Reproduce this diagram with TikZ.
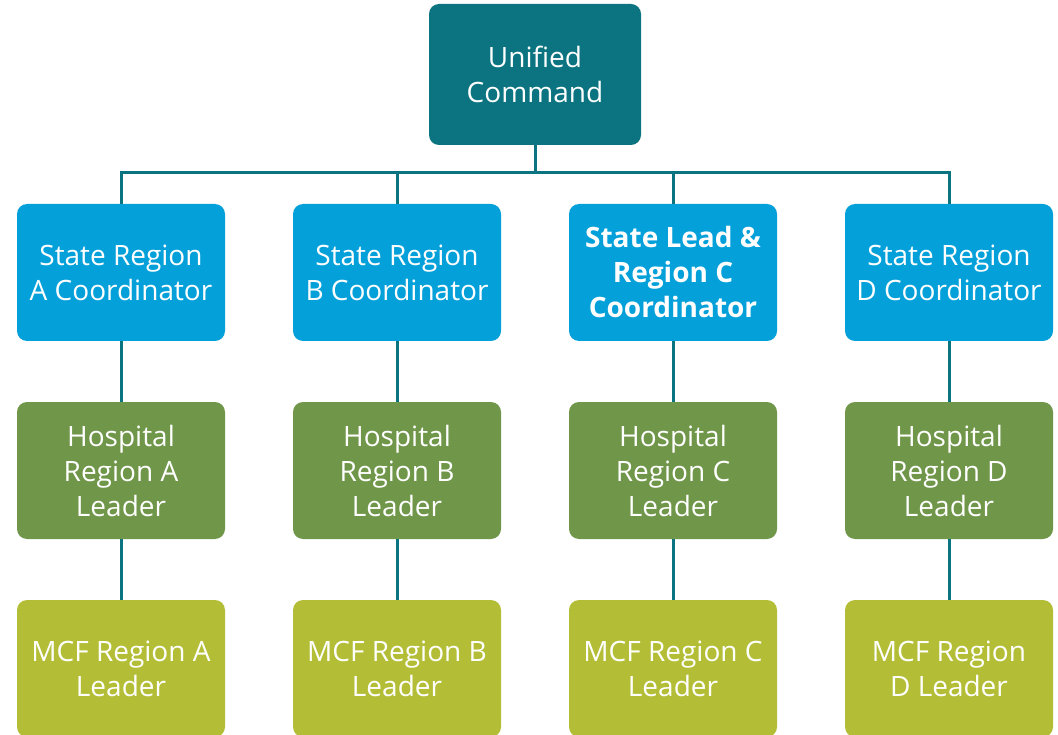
\documentclass[tikz,border=0pt]{standalone}
\usepackage{fontspec}
\setmainfont{Open Sans}
\definecolor{teal}{RGB}{11,116,128}
\definecolor{stateblue}{RGB}{4,160,218}
\definecolor{hospgreen}{RGB}{111,150,73}
\definecolor{mcfgreen}{RGB}{179,190,54}
\begin{document}
\begin{tikzpicture}[x=1pt,y=-1pt,
  box/.style={rectangle, rounded corners=10pt, text=white, align=center,
    inner sep=0pt, minimum width=208pt, minimum height=137pt,
    font=\fontsize{28}{35}\selectfont},
  topbox/.style={box, fill=teal, minimum width=212pt, minimum height=141pt},
  statebox/.style={box, fill=stateblue},
  hospbox/.style={box, fill=hospgreen},
  mcfbox/.style={box, fill=mcfgreen},
  conn/.style={draw=teal, line width=3pt}]
\useasboundingbox (0,0) rectangle (1058,735);
\clip (0,0) rectangle (1058,735);
\node[topbox] (top) at (535,74.5) {Unified\\Command};
\node[statebox] (sA) at (121,272.5) {State Region\\A Coordinator};
\node[statebox] (sB) at (397,272.5) {State Region\\B Coordinator};
\node[statebox, font=\fontsize{28}{35}\selectfont\bfseries] (sC) at (673,272.5) {State Lead \&\\Region C\\Coordinator};
\node[statebox] (sD) at (949,272.5) {State Region\\D Coordinator};
\node[hospbox] (hA) at (121,470.5) {Hospital\\Region A\\Leader};
\node[hospbox] (hB) at (397,470.5) {Hospital\\Region B\\Leader};
\node[hospbox] (hC) at (673,470.5) {Hospital\\Region C\\Leader};
\node[hospbox] (hD) at (949,470.5) {Hospital\\Region D\\Leader};
\node[mcfbox] (mA) at (121,668.5) {MCF Region A\\Leader};
\node[mcfbox] (mB) at (397,668.5) {MCF Region B\\Leader};
\node[mcfbox] (mC) at (673,668.5) {MCF Region C\\Leader};
\node[mcfbox] (mD) at (949,668.5) {MCF Region\\D Leader};
\foreach \s in {sA,sB,sC,sD}{
  \draw[conn] (top.south) -- ++(0,27.5) -| (\s.north);
}
\foreach \a/\b in {sA/hA,sB/hB,sC/hC,sD/hD,hA/mA,hB/mB,hC/mC,hD/mD}{
  \draw[conn] (\a.south) -- (\b.north);
}
\end{tikzpicture}
\end{document}
